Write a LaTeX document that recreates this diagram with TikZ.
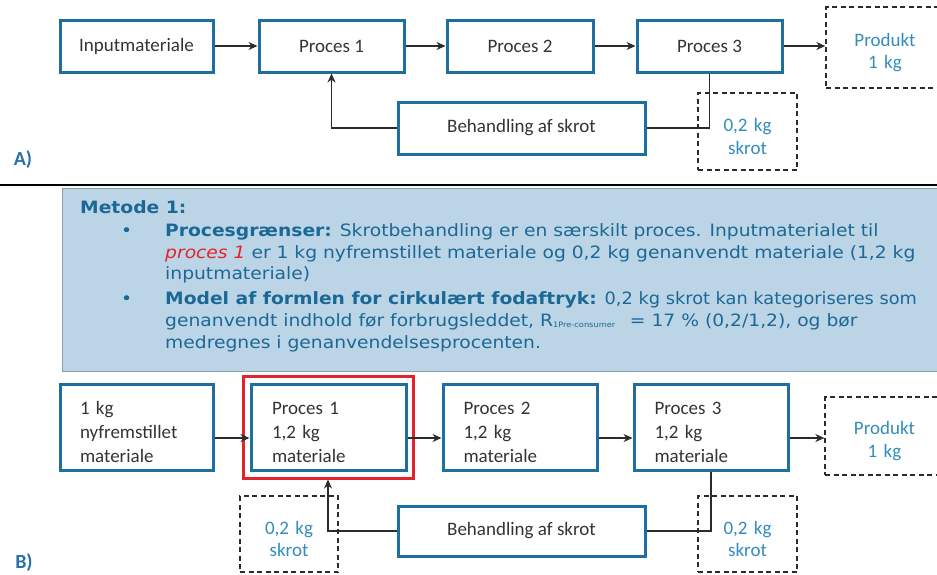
\documentclass[tikz,border=0pt]{standalone}
\usepackage{fontspec}
\usepackage{graphicx}
\setmainfont{Carlito}
\newfontfamily\vfont[FakeStretch=1.1]{DejaVu Sans}
\usetikzlibrary{arrows.meta}
\definecolor{boxblue}{HTML}{1F6F9E}
\definecolor{tblue}{HTML}{1B6896}
\definecolor{lblue}{HTML}{328CBE}
\definecolor{bgfill}{HTML}{BCD5E6}
\definecolor{bgedge}{HTML}{8E9FAB}
\definecolor{redc}{HTML}{E3232B}
\definecolor{lineg}{HTML}{2B2B2B}
\definecolor{txtgray}{HTML}{333333}
\definecolor{labblue}{HTML}{2A6EAA}
\newcommand{\raiseroom}[1]{\rule{0pt}{#1}}
\begin{document}
\begin{tikzpicture}[x=1pt,y=-1pt,
  boxfont/.style={font=\fontsize{19}{24}\selectfont},
  procbox/.style={draw=boxblue, line width=3pt, minimum height=52pt, text=txtgray, boxfont, inner sep=0pt},
  lbox/.style={procbox, align=left, inner xsep=20pt, text width=113pt, minimum height=86pt,
    execute at begin node={\raiseroom{24pt}}},
  dbox/.style={draw=lineg, dash pattern=on 5pt off 3.5pt, line width=1.3pt, text=lblue, align=center, text width=90pt,
    font=\fontsize{19}{22.5}\selectfont, inner sep=0pt,
    execute at begin node={\raiseroom{23pt}}},
  arr/.style={draw=lineg, line width=1.4pt, -{Stealth[length=9pt,width=8pt]}},
  ln/.style={draw=lineg, line width=1.4pt},
  vtext/.style={anchor=base west, inner sep=0pt, text=tblue, font=\vfont\fontsize{17}{22}\selectfont},
  partlab/.style={anchor=base, text=labblue, font=\fontsize{20}{24}\selectfont\bfseries, inner sep=0pt}
]
\useasboundingbox (0,0) rectangle (937,574);

% ---------- Part A ----------
\node[procbox, minimum width=153pt] (inA) at (136.5,46) {Inputmateriale};
\node[procbox, minimum width=145pt] (p1A) at (331.5,46) {Proces 1};
\node[procbox, minimum width=146pt] (p2A) at (520,46) {Proces 2};
\node[procbox, minimum width=145pt] (p3A) at (709.5,46) {Proces 3};
\node[dbox, minimum width=118pt, minimum height=81pt] (prodA) at (885,47.5) {Produkt\\1 kg};
\node[procbox, minimum width=247pt] (behA) at (521.5,128) {Behandling af skrot};
\node[dbox, minimum width=99pt, minimum height=77pt] (scrA) at (747.5,131.5) {0,2 kg\\skrot};

\draw[arr] (inA) -- (p1A);
\draw[arr] (p1A) -- (p2A);
\draw[arr] (p2A) -- (p3A);
\draw[arr] (p3A.east) -- (prodA.west |- p3A.east);
\draw[arr] (behA.west) -| (p1A.south);
\draw[ln] (p3A.south) |- (behA.east);

\node[partlab] (labA) at (23,165) {A)};

% ---------- separator and method box ----------
\draw[line width=2.5pt, black] (0,185) -- (937,185);
\draw[draw=bgedge, line width=1pt, fill=bgfill] (62,188.5) rectangle (944,371);

\node[vtext, font=\vfont\fontsize{17}{22}\selectfont\bfseries] (m1) at (80,213) {Metode 1:};
\node[vtext] (bul1) at (121,236) {\textbullet};
\node[vtext] (l2) at (165,236) {{\bfseries Procesgrænser:} Skrotbehandling er en særskilt proces. Inputmaterialet til};
\node[vtext] (l3) at (165,258) {{\color{redc}\itshape proces 1} er 1 kg nyfremstillet materiale og 0,2 kg genanvendt materiale (1,2 kg};
\node[vtext] (l4) at (165,279) {inputmateriale)};
\node[vtext] (bul2) at (121,304) {\textbullet};
\node[vtext] (l5) at (165,304) {{\bfseries Model af formlen for cirkulært fodaftryk:} \scalebox{0.95}[1]{0,2 kg skrot kan kategoriseres som}};
\node[vtext] (l6) at (165,326) {genanvendt indhold før forbrugsleddet, R\raisebox{-1pt}{\fontsize{7.5}{8}\selectfont 1Pre-consumer}\ \ \,= 17 \% (0,2/1,2), og bør};
\node[vtext] (l7) at (165,348) {medregnes i genanvendelsesprocenten.};

% ---------- Part B ----------
\node[lbox, minimum width=153pt] (inB) at (136.5,427) {1 kg\\nyfremstillet\\materiale};
\node[draw=redc, line width=3pt, minimum width=170pt, minimum height=102pt, inner sep=0pt] (redB) at (328,427) {};
\node[lbox, minimum width=155pt] (p1B) at (328.5,427) {Proces 1\\1,2 kg\\materiale};
\node[lbox, minimum width=154pt] (p2B) at (520,427) {Proces 2\\1,2 kg\\materiale};
\node[lbox, minimum width=154pt] (p3B) at (711,427) {Proces 3\\1,2 kg\\materiale};
\node[dbox, minimum width=119pt, minimum height=78pt] (prodB) at (884.5,436) {Produkt\\1 kg};
\node[procbox, minimum width=247pt, minimum height=50pt] (behB) at (521.5,531) {Behandling af skrot};
\node[dbox, minimum width=98pt, minimum height=76pt] (scrBL) at (289,534) {0,2 kg\\skrot};
\node[dbox, minimum width=99pt, minimum height=76pt] (scrBR) at (747.5,534) {0,2 kg\\skrot};

\draw[arr] ([yshift=-11pt]inB.east) -- ([yshift=-11pt]p1B.west);
\draw[arr] ([yshift=-11pt]p1B.east) -- ([yshift=-11pt]p2B.west);
\draw[arr] ([yshift=-11pt]p2B.east) -- ([yshift=-11pt]p3B.west);
\draw[arr] ([yshift=-11pt]p3B.east) -- ([yshift=-11pt]p3B.east -| prodB.west);
\draw[arr] (behB.west) -| (redB.south);
\draw[ln] (p3B.south) |- (behB.east);

\node[partlab] (labB) at (24,568) {B)};
\end{tikzpicture}
\end{document}
